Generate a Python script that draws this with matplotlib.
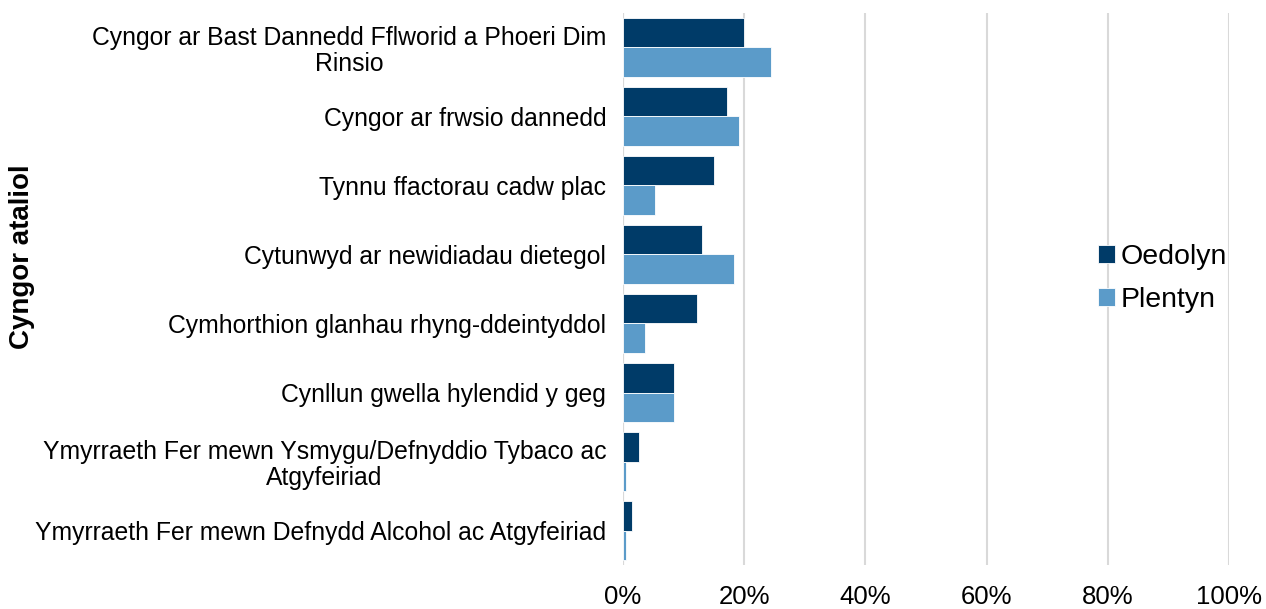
import matplotlib.pyplot as plt
import numpy as np
from matplotlib.ticker import PercentFormatter

plt.rcParams["font.family"] = ["Liberation Sans", "DejaVu Sans"]

categories = [
    "Cyngor ar Bast Dannedd Fflworid a Phoeri Dim\nRinsio",
    "Cyngor ar frwsio dannedd",
    "Tynnu ffactorau cadw plac",
    "Cytunwyd ar newidiadau dietegol",
    "Cymhorthion glanhau rhyng-ddeintyddol",
    "Cynllun gwella hylendid y geg",
    "Ymyrraeth Fer mewn Ysmygu/Defnyddio Tybaco ac\nAtgyfeiriad",
    "Ymyrraeth Fer mewn Defnydd Alcohol ac Atgyfeiriad",
]
oedolyn = [20.0, 17.2, 15.1, 13.0, 12.2, 8.4, 2.6, 1.5]
plentyn = [24.4, 19.1, 5.3, 18.3, 3.7, 8.5, 0.55, 0.55]
series_names = ["Oedolyn", "Plentyn"]
colors = ["#003B68", "#5B9BC9"]

fig = plt.figure(figsize=(12.66, 6.09), dpi=100)
ax = fig.add_axes([0.492, 0.072, 0.479, 0.907])

y = np.arange(len(categories))
bar_h = 0.43
ax.barh(y - bar_h / 2, oedolyn, height=bar_h, color=colors[0],
        edgecolor="white", linewidth=0.6, label=series_names[0], zorder=3)
ax.barh(y + bar_h / 2, plentyn, height=bar_h, color=colors[1],
        edgecolor="white", linewidth=0.6, label=series_names[1], zorder=3)

ax.set_xlim(0, 100)
ax.set_ylim(len(categories) - 0.5, -0.5)
ax.set_xticks(range(0, 101, 20))
ax.xaxis.set_major_formatter(PercentFormatter(decimals=0))
ax.set_yticks(y)
ax.set_yticklabels(categories, multialignment="center", linespacing=1.1)
ax.tick_params(axis="x", length=0, labelsize=18.5, pad=14)
ax.tick_params(axis="y", length=0, labelsize=17.8, pad=12)
ax.grid(axis="x", color="#d9d9d9", linewidth=1.5, zorder=0)
for s in ax.spines.values():
    s.set_visible(False)
ax.axvline(0, color="#d9d9d9", linewidth=1.5, zorder=1)

fig.text(0.017, 0.578, "Cyngor ataliol", rotation=90, fontsize=20,
         fontweight="bold", ha="center", va="center")

fig.legend(loc="center left", bbox_to_anchor=(0.847, 0.542), frameon=False,
           fontsize=20.5, handlelength=0.6, handleheight=0.6,
           handletextpad=0.2, labelspacing=0.6)

fig.savefig("out.png", dpi=100)
